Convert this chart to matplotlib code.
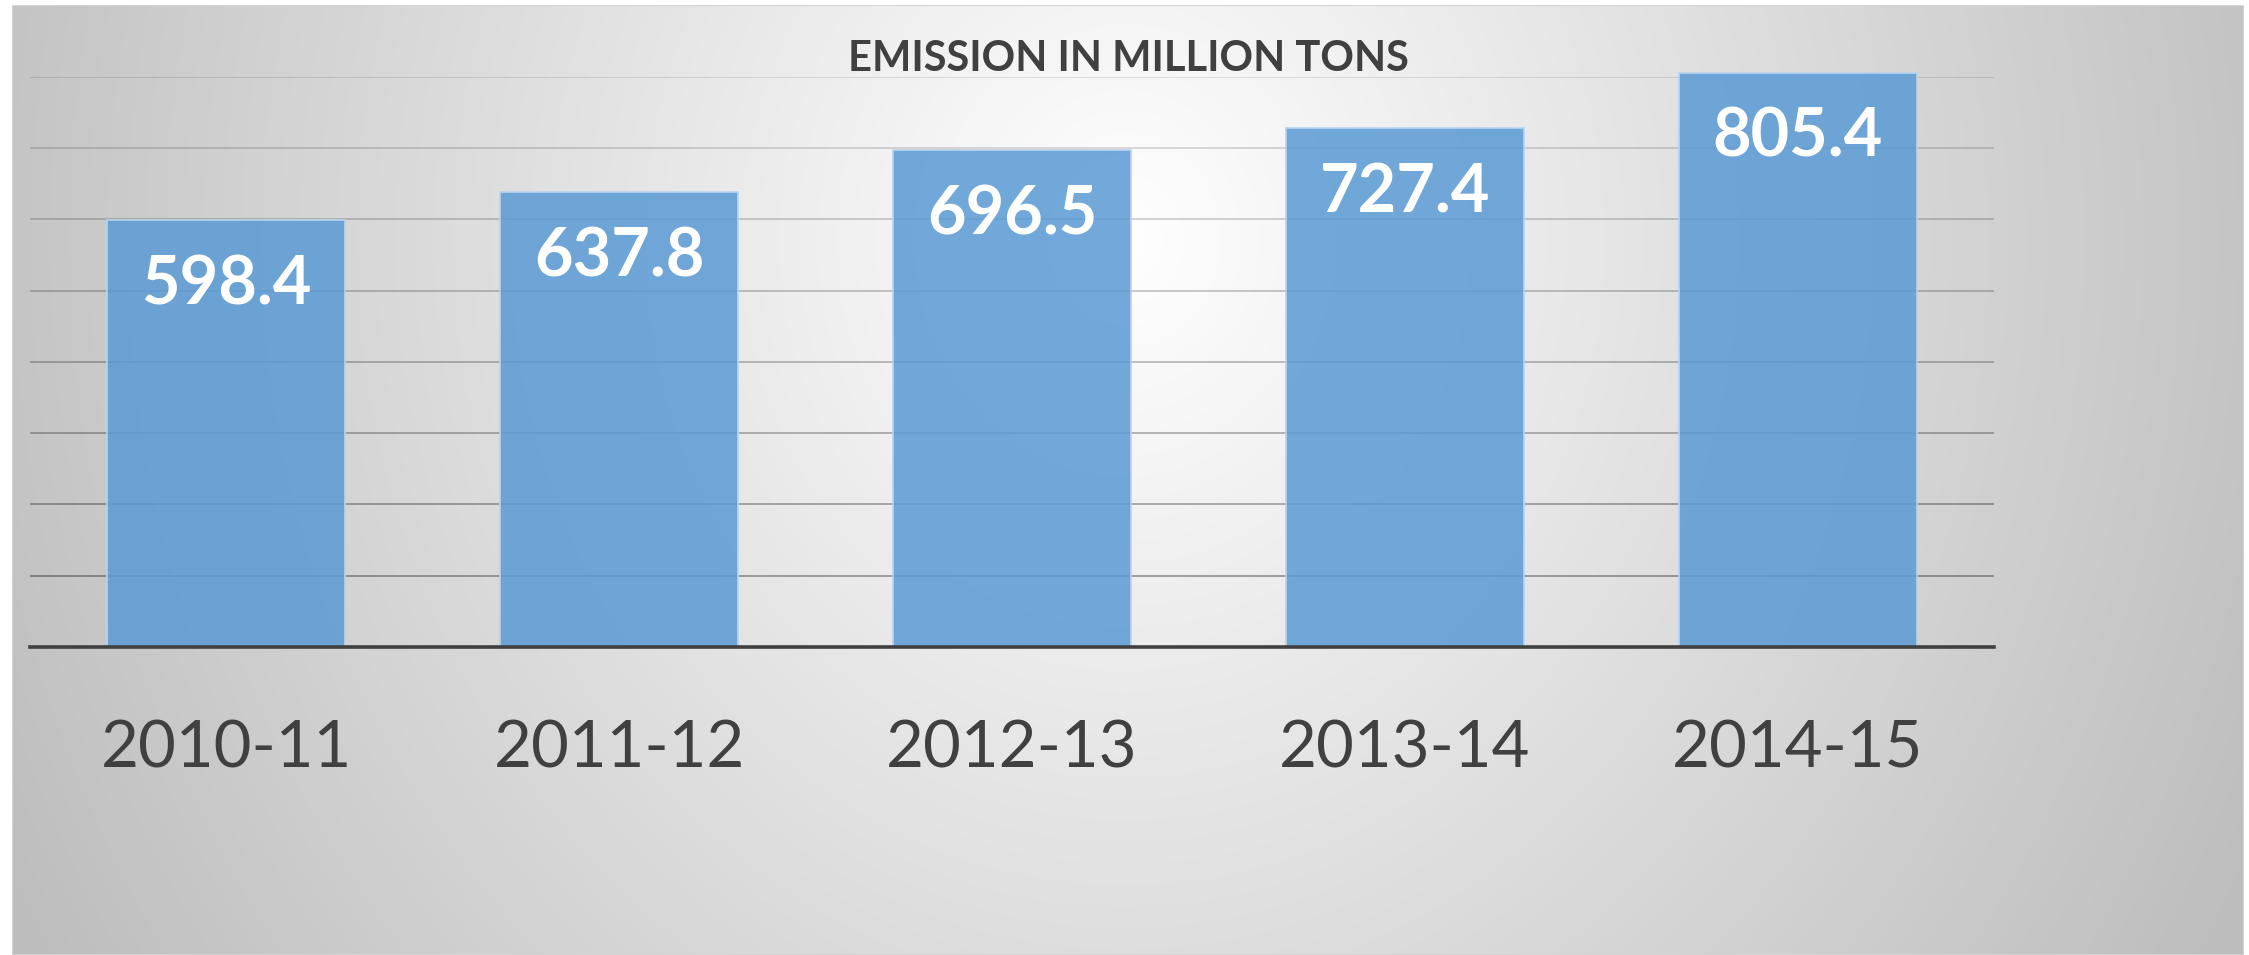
import numpy as np
import matplotlib
matplotlib.use("Agg")
import matplotlib.pyplot as plt
from matplotlib.patches import Rectangle

# ---- data ----
categories = ["2010-11", "2011-12", "2012-13", "2013-14", "2014-15"]
emissions = [598.4, 637.8, 696.5, 727.4, 805.4]
grid_levels = [100, 200, 300, 400, 500, 600, 700, 800]
title = "EMISSION IN MILLION TONS"

W, H = 2249, 955
DPI = 100
fig = plt.figure(figsize=(W / DPI, H / DPI), dpi=DPI)
fig.patch.set_facecolor("white")

# ---- background radial gradient ----
bx0, bx1, by0, by1 = 12, 2244, 5, 955   # pixel coords (y from top)
bg = fig.add_axes([bx0 / W, 1 - by1 / H, (bx1 - bx0) / W, (by1 - by0) / H])
bg.set_axis_off()
xs = np.linspace(bx0, bx1, 600)
ys = np.linspace(by0, by1, 300)
X, Y = np.meshgrid(xs, ys)
cx, cy, ax_, ay_ = 1125, 240, 1115, 1250
r = np.sqrt(((X - cx) / ax_) ** 2 + ((Y - cy) / ay_) ** 2)
val = np.clip(255 - 58 * r, 189, 255) / 255.0
img = np.dstack([val, val, val])
bg.imshow(img, extent=[0, 1, 0, 1], origin="upper", aspect="auto", interpolation="bilinear")
bg.add_patch(Rectangle((0, 0), 1, 1, transform=bg.transAxes, fill=False,
                       edgecolor="#d4d4d4", linewidth=1.5))
bg.set_xlim(0, 1)
bg.set_ylim(0, 1)

# ---- main axes ----
left, right, base, top = 30, 1994, 647, 76.6
ax = fig.add_axes([left / W, 1 - base / H, (right - left) / W, (base - top) / H])
ax.patch.set_alpha(0)
ax.set_xlim(-0.5, len(categories) - 0.5)
ax.set_ylim(0, 800)

# gridlines (darker lower down, as in the reference)
for lv in grid_levels:
    a = 0.36 - 0.24 * (lv - 100) / 700
    ax.axhline(lv, color="black", alpha=a, linewidth=1.3, zorder=1)

x = np.arange(len(categories))
bars = ax.bar(x, emissions, width=0.606, color="#5b9bd5", alpha=0.86,
              edgecolor="#b8d4ef", linewidth=1.4, zorder=2, clip_on=False)

# baseline
ax.axhline(0, color="#404040", linewidth=2.6, zorder=3, clip_on=False)

for xi, v in zip(x, emissions):
    ax.annotate(f"{v:.1f}", xy=(xi, v), xytext=(0, -60.5), textcoords="offset points",
                ha="center", va="baseline", color="white", fontsize=48,
                fontweight="bold", family="Lato", zorder=4, annotation_clip=False)

for s in ax.spines.values():
    s.set_visible(False)
ax.set_yticks([])
ax.set_xticks(x)
ax.set_xticklabels(categories, family="Lato", fontsize=47, color="#404040")
ax.tick_params(axis="x", length=0, pad=86.4)
for lbl in ax.get_xticklabels():
    lbl.set_verticalalignment("baseline")

fig.text(1128 / W, 1 - 70.7 / H, title, ha="center", va="baseline",
         fontsize=30, fontweight="bold", family="Lato", color="#404040")

fig.savefig("out.png", dpi=DPI)
